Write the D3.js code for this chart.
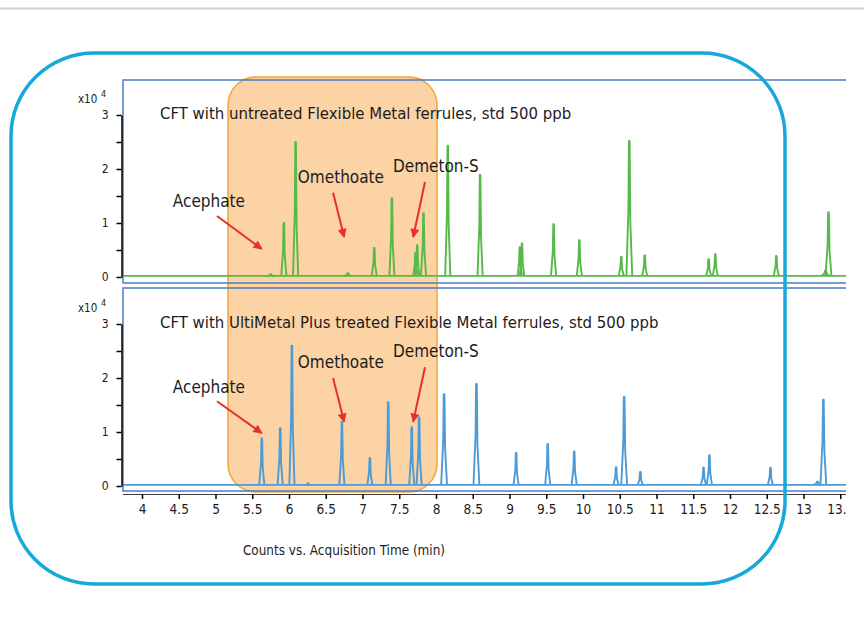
<!DOCTYPE html>
<html lang="en">
<head>
<meta charset="UTF-8">
<title>CFT ferrules chromatogram</title>
<script src="https://d3js.org/d3.v7.min.js"></script>
<style>
    body { margin: 0; background: #fff; }
    svg text { font-family: "Liberation Sans Narrow", "DejaVu Sans Condensed", sans-serif; fill: #1e1b1c; }
    .axis path, .axis line { stroke: #000; stroke-width: 1.5px; }
    .trace { fill: none; stroke-width: 1.9px; stroke-linejoin: round; }
</style>
</head>
<body>
<svg id="canvas" width="864" height="619"></svg>
<script>
// peaks: retention time (min), height (x10^4 counts), half width (min)
let topTimes   = [5.75, 5.93, 6.09, 6.80, 7.16, 7.40, 7.72, 7.745, 7.83, 8.16, 8.60, 9.14, 9.17, 9.60, 9.95, 10.52, 10.63, 10.84, 11.71, 11.80, 12.63, 13.30, 13.34];
let topHeights = [0.05, 1.00, 2.50, 0.07, 0.54, 1.46, 0.45, 0.59, 1.18, 2.43, 1.89, 0.55, 0.62, 0.98, 0.68, 0.37, 2.52, 0.40, 0.33, 0.42, 0.39, 0.12, 1.20];
let topWidths  = [0.07, 0.035, 0.035, 0.06, 0.035, 0.035, 0.03, 0.03, 0.035, 0.035, 0.035, 0.03, 0.03, 0.035, 0.035, 0.035, 0.04, 0.035, 0.035, 0.035, 0.035, 0.06, 0.04];
let topBase = 0.02;

let botTimes   = [5.63, 5.88, 6.04, 6.26, 6.72, 7.10, 7.35, 7.67, 7.77, 8.11, 8.55, 9.09, 9.52, 9.88, 10.45, 10.56, 10.78, 11.64, 11.72, 12.55, 13.19, 13.27];
let botHeights = [0.88, 1.07, 2.60, 0.05, 1.19, 0.52, 1.55, 1.09, 1.27, 1.70, 1.89, 0.61, 0.78, 0.64, 0.35, 1.65, 0.26, 0.34, 0.57, 0.34, 0.08, 1.60];
let botWidths  = [0.035, 0.035, 0.035, 0.035, 0.035, 0.035, 0.035, 0.035, 0.035, 0.04, 0.04, 0.035, 0.035, 0.035, 0.035, 0.04, 0.035, 0.035, 0.035, 0.035, 0.06, 0.04];
let botBase = 0.02;

let xTicks = [4, 4.5, 5, 5.5, 6, 6.5, 7, 7.5, 8, 8.5, 9, 9.5, 10, 10.5, 11, 11.5, 12, 12.5, 13, 13.5];
let yTicks = [0, 0.5, 1, 1.5, 2, 2.5, 3];

let titles = ["CFT with untreated Flexible Metal ferrules, std 500 ppb",
              "CFT with UltiMetal Plus treated Flexible Metal ferrules, std 500 ppb"];
let labelNames = ["Acephate", "Omethoate", "Demeton-S"];
// label anchor and arrow (from -> to) in data units, per panel
let topLabelPos = [[4.42, 1.30], [6.12, 1.74], [7.415, 1.94]];
let topArrows   = [[[5.02, 1.13], [5.63, 0.52]], [[6.60, 1.56], [6.75, 0.74]], [[7.85, 1.76], [7.69, 0.74]]];
let botLabelPos = [[4.42, 1.72], [6.12, 2.19], [7.415, 2.39]];
let botArrows   = [[[5.02, 1.57], [5.63, 0.98]], [[6.60, 2.00], [6.75, 1.19]], [[7.85, 2.20], [7.69, 1.19]]];

let svg = d3.select('#canvas');
let x = d3.scaleLinear().domain([4, 13]).range([142, 803.5]);
let yTop = d3.scaleLinear().domain([0, 3]).range([277, 115]);
let yBot = d3.scaleLinear().domain([0, 3]).range([486, 324]);
let xMin = x.invert(123), xMax = x.invert(846);

svg.append('defs').append('clipPath').attr('id', 'clip')
    .append('rect').attr('x', 0).attr('y', 0).attr('width', 846).attr('height', 619);
svg.select('defs').append('marker').attr('id', 'arrow')
    .attr('viewBox', '0 0 10 10').attr('refX', 9).attr('refY', 5)
    .attr('markerWidth', 5).attr('markerHeight', 4.5).attr('orient', 'auto')
    .append('path').attr('d', 'M0,0 L10,5 L0,10 z').attr('fill', '#e8302a');

// light rule at the top
svg.append('line').attr('x1', 0).attr('x2', 864).attr('y1', 8.5).attr('y2', 8.5)
    .attr('stroke', '#cfcfcf').attr('stroke-width', 2);

// highlighted window
svg.append('rect').attr('x', 228).attr('y', 77).attr('width', 209).attr('height', 415).attr('rx', 28)
    .attr('fill', '#fbd3a4').attr('stroke', '#eea53c').attr('stroke-width', 1.5);

function panel(y, times, heights, widths, base, color, title, labelPos, arrows, top) {
    let g = svg.append('g');
    g.append('path').attr('clip-path', 'url(#clip)')
        .attr('d', `M900,${top} H123 V${top + 203} H900`)
        .attr('fill', 'none').attr('stroke', '#4a7cc3').attr('stroke-width', 1.5);

    let line = d3.line().x(d => x(d[0])).y(d => y(d[1]));
    let clipped = g.append('g').attr('clip-path', 'url(#clip)');
    clipped.append('path').attr('class', 'trace').attr('stroke', color)
        .attr('d', line([[xMin, base], [xMax, base]]));
    times.forEach(function (t, i) {
        let h = heights[i], w = widths[i];
        clipped.append('path').attr('class', 'trace').attr('stroke', color)
            .attr('d', line([[t - w, base], [t - w * 0.3, h * 0.5], [t - w * 0.12, h], [t + w * 0.12, h], [t + w * 0.35, h * 0.4], [t + w, base]]));
    });

    let axis = d3.axisLeft(y).tickValues(yTicks).tickSize(5).tickSizeOuter(0).tickPadding(8)
        .tickFormat(d => Number.isInteger(d) ? d : '');
    g.append('g').attr('class', 'axis').attr('transform', 'translate(121.5,0)').call(axis)
        .call(a => a.selectAll('text').style('font-size', '12px'));

    g.append('text').attr('x', 78).attr('y', y(3) - 12).style('font-size', '11.5px').text('x10');
    g.append('text').attr('x', 101).attr('y', y(3) - 18).style('font-size', '9px').text('4');

    g.append('text').attr('x', 160).attr('y', y(3) + 4).style('font-size', '16.6px').text(title);

    labelNames.forEach(function (name, i) {
        g.append('text').attr('x', x(labelPos[i][0])).attr('y', y(labelPos[i][1]))
            .style('font-size', '17px').text(name);
        g.append('line')
            .attr('x1', x(arrows[i][0][0])).attr('y1', y(arrows[i][0][1]))
            .attr('x2', x(arrows[i][1][0])).attr('y2', y(arrows[i][1][1]))
            .attr('stroke', '#e8302a').attr('stroke-width', 2).attr('marker-end', 'url(#arrow)');
    });
}

panel(yTop, topTimes, topHeights, topWidths, topBase, '#57b94a', titles[0], topLabelPos, topArrows, 80);
panel(yBot, botTimes, botHeights, botWidths, botBase, '#4c9bd7', titles[1], botLabelPos, botArrows, 288);

// time axis
let xAxis = d3.axisBottom(x).tickValues(xTicks).tickSize(5).tickSizeOuter(0).tickPadding(5).tickFormat(d3.format(''));
let xg = svg.append('g').attr('class', 'axis').attr('clip-path', 'url(#clip)')
    .attr('transform', 'translate(0,494)').call(xAxis);
xg.select('.domain').attr('d', 'M123,0 H846');
xg.selectAll('text').style('font-size', '13.5px');

svg.append('text').attr('x', 344).attr('y', 555).attr('text-anchor', 'middle')
    .style('font-size', '13.4px').text('Counts vs. Acquisition Time (min)');

// outer frame
svg.append('rect').attr('x', 11).attr('y', 53).attr('width', 774).attr('height', 531).attr('rx', 83)
    .attr('fill', 'none').attr('stroke', '#14a9d9').attr('stroke-width', 3.5);
</script>
</body>
</html>
